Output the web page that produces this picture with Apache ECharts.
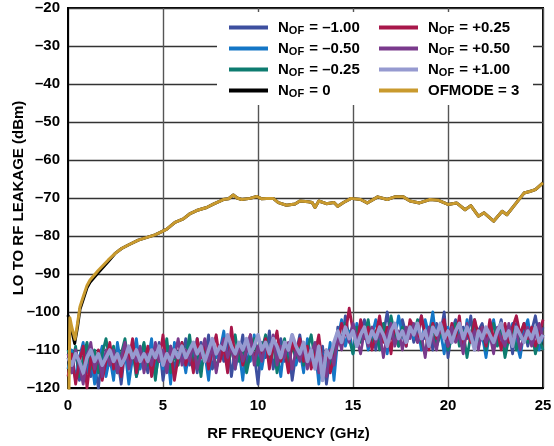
<!DOCTYPE html>
<html><head><meta charset="utf-8">
<script src="https://cdn.jsdelivr.net/npm/echarts@6/dist/echarts.min.js"></script>
<style>html,body{margin:0;padding:0;background:#fff}#c{width:554px;height:446px}</style>
</head><body><div id="c"></div>
<script>
// ---- data ----
const xTicks = [0, 5, 10, 15, 20, 25];
const yTicks = [-120, -110, -100, -90, -80, -70, -60, -50, -40, -30, -20];
const seriesNames = ['NOF = –1.00','NOF = –0.50','NOF = –0.25','NOF = 0','NOF = +0.25','NOF = +0.50','NOF = +1.00','OFMODE = 3'];
const seriesColors = ['#3d4f9f','#1476c6','#0e7c70','#000000','#a8174a','#7a3a8c','#969ad0','#c99a2e'];

// noise-floor sweep: 0 to 25 GHz in 0.2 GHz steps
const noiseStep = 0.2;
const nm100 = [-112,-116,-110,-118,-113,-109,-117,-114,-120,-111,-115,
-109,-116,-112,-119,-110,-114,-108,-117,-113,-111,
-116,-110,-114,-108,-118,-112,-109,-115,-111,-113,
-107,-114,-110,-116,-108,-112,-106,-115,-111,-109,
-113,-107,-117,-110,-112,-106,-114,-109,-111,-119,
-108,-112,-105,-115,-110,-107,-113,-109,-118,-111,
-106,-112,-108,-114,-110,-117,-109,-119,-112,-114,
-104,-108,-101,-107,-103,-109,-105,-102,-108,-104,
-110,-103,-106,-100,-107,-104,-109,-102,-106,-103,
-108,-105,-101,-107,-104,-110,-103,-106,-100,-112,
-105,-102,-108,-104,-107,-101,-109,-105,-103,-108,
-104,-110,-106,-102,-108,-105,-111,-103,-107,-104,
-109,-105,-101,-107,-104];
const nm050 = [-115,-110,-118,-112,-108,-116,-111,-119,-113,-109,-117,
-112,-118,-108,-114,-110,-119,-112,-107,-115,-110,
-113,-107,-117,-111,-115,-109,-119,-108,-113,-110,
-116,-109,-113,-107,-115,-111,-118,-108,-112,-110,
-105,-113,-109,-115,-110,-118,-108,-113,-106,-112,
-115,-109,-113,-107,-111,-117,-108,-112,-106,-114,
-110,-116,-107,-112,-109,-119,-111,-115,-108,-118,
-107,-102,-109,-105,-111,-103,-107,-104,-110,-106,
-102,-108,-105,-111,-104,-107,-101,-106,-109,-103,
-107,-104,-110,-102,-106,-100,-108,-105,-111,-104,
-108,-103,-106,-110,-102,-107,-104,-109,-106,-112,
-105,-102,-108,-104,-111,-106,-103,-108,-112,-105,
-102,-108,-104,-110,-106];
const nm025 = [-110,-114,-109,-117,-112,-108,-115,-110,-116,-111,-107,
-113,-109,-116,-111,-107,-114,-110,-117,-112,-108,
-114,-110,-118,-109,-113,-107,-116,-111,-114,-108,
-112,-106,-114,-110,-117,-108,-113,-109,-115,-111,
-108,-114,-110,-106,-113,-109,-116,-111,-107,-114,
-110,-106,-113,-108,-116,-111,-107,-114,-109,-112,
-108,-114,-110,-106,-113,-109,-118,-111,-115,-110,
-105,-109,-103,-107,-111,-104,-108,-106,-102,-109,
-105,-110,-103,-107,-101,-106,-109,-104,-108,-103,
-106,-102,-108,-111,-105,-103,-109,-106,-104,-110,
-107,-103,-109,-105,-112,-106,-102,-108,-104,-110,
-106,-103,-109,-105,-112,-107,-104,-110,-106,-103,
-108,-105,-111,-107,-110];
const p025 = [-117,-111,-119,-113,-109,-120,-112,-116,-110,-118,-113,
-108,-115,-111,-117,-109,-113,-107,-116,-110,-114,
-109,-117,-111,-113,-106,-115,-110,-118,-112,-108,
-114,-110,-116,-107,-112,-108,-115,-110,-106,-113,
-109,-116,-104,-112,-108,-114,-110,-106,-113,-109,
-112,-107,-115,-109,-105,-113,-110,-116,-108,-111,
-107,-113,-109,-115,-111,-106,-114,-110,-116,-112,
-108,-103,-106,-99,-105,-109,-102,-107,-104,-110,
-106,-101,-108,-104,-111,-103,-107,-105,-109,-102,
-104,-108,-101,-106,-110,-103,-107,-105,-102,-109,
-103,-107,-101,-110,-105,-108,-102,-106,-104,-109,
-102,-107,-105,-110,-103,-108,-104,-101,-106,-103,
-107,-104,-109,-106,-102];
const p050 = [-111,-116,-110,-114,-119,-112,-108,-115,-111,-117,-110,
-114,-110,-116,-112,-108,-115,-111,-113,-109,-116,
-111,-114,-108,-113,-110,-116,-109,-112,-107,-114,
-110,-113,-108,-115,-111,-107,-113,-109,-116,-110,
-107,-112,-109,-115,-108,-113,-110,-106,-114,-109,
-113,-108,-111,-106,-114,-109,-112,-108,-115,-110,
-113,-109,-115,-111,-108,-116,-112,-117,-110,-114,
-106,-110,-104,-108,-103,-107,-111,-105,-109,-104,
-108,-105,-112,-106,-103,-109,-105,-110,-104,-107,
-103,-108,-106,-112,-104,-107,-110,-103,-106,-109,
-104,-108,-106,-111,-103,-107,-105,-110,-104,-108,
-106,-111,-104,-107,-109,-103,-108,-105,-110,-106,
-104,-109,-106,-103,-107];
const p100 = [-112,-114,-111,-113,-116,-112,-110,-113,-111,-114,-112,
-110,-113,-111,-114,-112,-109,-112,-110,-113,-111,
-113,-110,-112,-109,-114,-111,-113,-110,-112,-109,
-112,-110,-108,-111,-109,-113,-110,-107,-111,-109,
-110,-106,-109,-111,-108,-110,-107,-111,-109,-106,
-110,-108,-111,-107,-109,-112,-108,-110,-106,-109,
-111,-108,-113,-110,-115,-109,-118,-110,-112,-108,
-105,-108,-104,-107,-105,-109,-106,-104,-108,-105,
-107,-104,-106,-109,-105,-103,-107,-105,-108,-104,
-106,-103,-107,-105,-109,-104,-106,-103,-107,-105,
-108,-105,-103,-107,-104,-106,-110,-105,-107,-104,
-106,-108,-105,-103,-107,-105,-109,-104,-106,-108,
-105,-107,-104,-108,-106];

// OFMODE = 3 trace
const freqTop = [0.05,0.1,0.2,0.37,0.5,0.63,0.8,1.0,1.16,1.6,2.12,2.5,2.82,3.2,3.7,4.2,4.58,4.83,5.2,5.63,6.07,6.4,6.77,7.03,7.3,7.65,8.17,8.45,8.7,8.9,9.14,9.58,9.93,10.2,10.45,10.8,11.07,11.5,11.95,12.2,12.65,12.85,13.0,13.2,13.6,14.0,14.2,14.5,14.9,15.4,15.75,16.3,16.8,17.2,17.65,18.0,18.5,19.05,19.5,20.0,20.45,20.9,21.2,21.6,21.9,22.4,22.85,23.1,23.45,24.0,24.3,24.6,25.0];
const leakTop = [-121,-101.5,-104,-107.2,-103,-98.6,-96,-93,-91.6,-89,-86.3,-84.5,-83.3,-82.3,-81.1,-80.3,-79.7,-79.1,-78.2,-76.4,-75.5,-74.2,-73.3,-72.9,-72.5,-71.6,-70.4,-70.2,-69.2,-70,-70.4,-70.1,-69.6,-70.2,-70.1,-70.1,-71.2,-71.9,-71.6,-70.8,-71,-71.2,-72.5,-70.8,-71.5,-71.2,-72.2,-71.2,-70.1,-70.4,-71.3,-69.7,-70.4,-69.7,-69.7,-70.8,-71.3,-70.4,-70.6,-71.7,-71.3,-73.1,-72,-74.8,-73.9,-76.1,-73.5,-74.4,-72.2,-68.7,-68.3,-67.8,-66.0];
// NOF = 0 trace: low-frequency part (above 2.5 GHz it runs under the OFMODE = 3 trace)
const freqZeroLow = [0,0.1,0.2,0.35,0.5,0.63,0.8,1.0,1.16,1.6,2.12];
const leakZeroLow = [-100.8,-101,-105,-108.3,-104,-99.3,-96.7,-93.6,-92.2,-89.6,-86.7];

// ---- build ----
const noiseSets = [nm100, nm050, nm025, null, p025, p050, p100, null];
function zip(xs, ys){ return ys.map((v,i)=>[xs[i], v]); }
function noisePairs(arr){ return arr.map((v,i)=>[+(i*noiseStep).toFixed(2), v]); }
const topPairs = zip(freqTop, leakTop);
const zeroPairs = zip(freqZeroLow, leakZeroLow).concat(topPairs.filter(p => p[0] >= 2.5));

const series = seriesNames.map((name, k) => {
  let data;
  if (k === 3) data = zeroPairs;
  else if (k === 7) data = topPairs;
  else data = noisePairs(noiseSets[k]);
  return {
    name, type: 'line', data, showSymbol: false, symbol: 'none',
    color: seriesColors[k],
    lineStyle: { width: (k === 6 ? 3.6 : (k === 7 || k === 3) ? 3 : 2.8), color: seriesColors[k], join: 'round' },
    animation: false, clip: true
  };
});

const fontFam = 'Liberation Sans, Arial, sans-serif';
function dash(v){ return v < 0 ? '–' + Math.abs(v) : String(v); }
function legendFmt(name){
  if (name.indexOf('NOF') === 0) return '{f|N}{s|OF}{n|' + name.slice(3) + '}';
  return '{f|' + name + '}';
}
const baseTxt = { fontFamily: fontFam, fontWeight: 'bold', fontSize: 15, color: '#000' };
const legendText = Object.assign({}, baseTxt, {
  rich: {
    f: Object.assign({}, baseTxt, { lineHeight: 17, verticalAlign: 'bottom', padding: [3,0,1,5] }),
    n: Object.assign({}, baseTxt, { lineHeight: 17, verticalAlign: 'bottom', padding: [3,0,1,0] }),
    s: Object.assign({}, baseTxt, { fontSize: 11, lineHeight: 11, verticalAlign: 'bottom', padding: [0,1,0,0] })
  }
});
function mkLegend(names, left){
  return {
    orient: 'vertical', left, top: 17, itemWidth: 39, itemHeight: 4, itemGap: 2,
    icon: 'rect', data: names, formatter: legendFmt, textStyle: legendText,
    selectedMode: false, z: 60, padding: 0
  };
}

const option = {
  backgroundColor: '#fff',
  animation: false,
  grid: { left: 68, top: 8, width: 475, height: 380, show: true, borderColor: '#000', borderWidth: 2,
          backgroundColor: 'transparent', containLabel: false, outerBoundsMode: 'none' },
  xAxis: {
    type: 'value', min: xTicks[0], max: xTicks[xTicks.length-1], interval: 5,
    name: 'RF FREQUENCY (GHz)', nameLocation: 'middle', nameGap: 38, nameMoveOverlap: false,
    nameTextStyle: { fontFamily: fontFam, fontWeight: 'bold', fontSize: 15, color: '#000', padding: [0, 34, 0, 0] },
    axisLine: { lineStyle: { color: '#000', width: 2 } }, axisTick: { show: false },
    axisLabel: { fontFamily: fontFam, fontWeight: 'bold', fontSize: 15, color: '#000', margin: 10 },
    splitLine: { lineStyle: { color: '#555', width: 1.4 } }
  },
  yAxis: {
    type: 'value', min: yTicks[0], max: yTicks[yTicks.length-1], interval: 10,
    name: 'LO TO RF LEAKAGE (dBm)', nameLocation: 'middle', nameGap: 42, nameMoveOverlap: false,
    nameTextStyle: { fontFamily: fontFam, fontWeight: 'bold', fontSize: 15, color: '#000' },
    axisLine: { show: true, lineStyle: { color: '#000', width: 2 } }, axisTick: { show: false },
    axisLabel: { fontFamily: fontFam, fontWeight: 'bold', fontSize: 15, color: '#000', margin: 8, formatter: dash },
    splitLine: { lineStyle: { color: '#333', width: 1.4 } }
  },
  legend: [ mkLegend(seriesNames.slice(0,4), 229), mkLegend(seriesNames.slice(4), 379) ],
  graphic: { elements: [ { type: 'rect', z: 50, shape: { x: 217, y: 12, width: 316, height: 93 }, style: { fill: '#fff' } } ] },
  series
};
const chart = echarts.init(document.getElementById('c'), null, { renderer: 'canvas' });
chart.setOption(option);
</script></body></html>
